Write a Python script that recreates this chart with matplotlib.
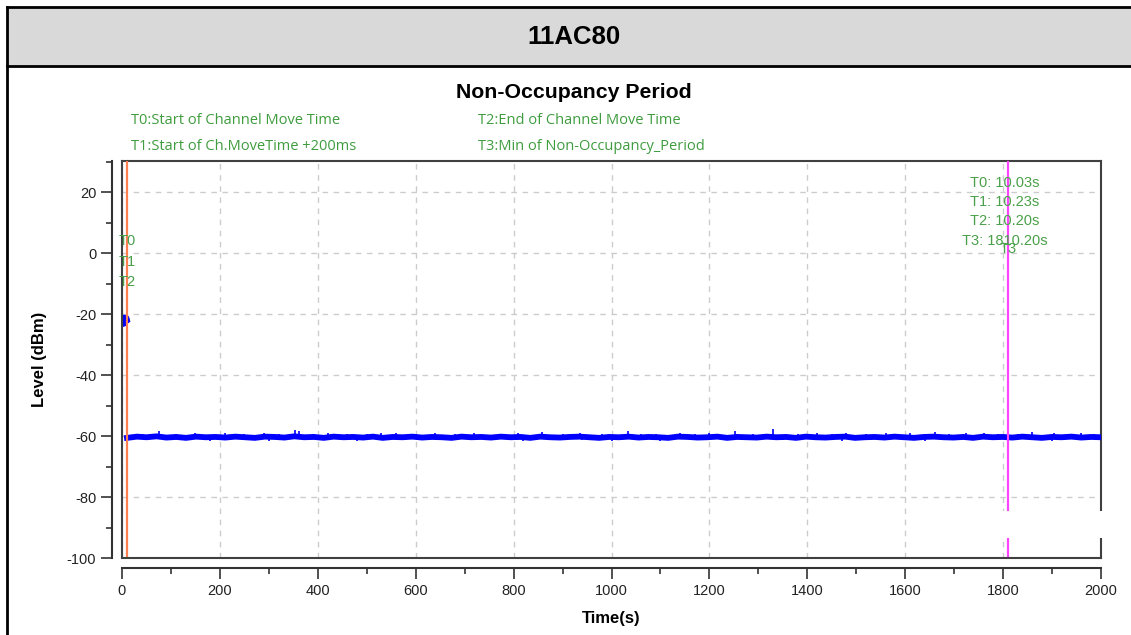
import numpy as np
import matplotlib
matplotlib.use('Agg')
import matplotlib.pyplot as plt
from matplotlib.patches import Rectangle
from matplotlib.lines import Line2D
from matplotlib.ticker import MultipleLocator

plt.rcParams['axes.unicode_minus'] = False

# ---- data ----
header = '11AC80'
title = 'Non-Occupancy Period'
legend_txt = ['T0:Start of Channel Move Time', 'T1:Start of Ch.MoveTime +200ms',
              'T2:End of Channel Move Time', 'T3:Min of Non-Occupancy_Period']

# marker times (s)
t0, t1, t2, t3 = 10.03, 10.23, 10.20, 1810.20
marker_names = ['T0', 'T1', 'T2']
marker_levels = [3.9, -3.0, -9.6]
t3_level = 1.3
info_lines = ['T0: 10.03s', 'T1: 10.23s', 'T2: 10.20s', 'T3: 1810.20s']
info_levels = [23.0, 16.8, 10.4, 3.8]

# signal before channel move (dBm)
pre_t = [0.5, 1.5, 2.5, 3.5, 4.5, 5.5, 6.5, 7.5, 8.5, 9.5]
pre_lvl = [-22.6, -23.2, -21.8, -22.7, -21.2, -23.0, -22.0, -22.4, -21.3, -21.9]

# noise floor after the move, sampled every ~20 s
base_lvl = [-60.6, -60.2, -60.4, -60.1, -60.5, -60.3, -60.6, -60.2, -60.4, -60.3,
            -60.5, -60.2, -60.4, -60.6, -60.2, -60.3, -60.5, -60.1, -60.4, -60.3,
            -60.6, -60.2, -60.4, -60.3, -60.5, -60.2, -60.6, -60.3, -60.4, -60.2,
            -60.5, -60.3, -60.4, -60.6, -60.2, -60.4, -60.3, -60.5, -60.2, -60.4,
            -60.3, -60.6, -60.2, -60.4, -60.5, -60.3, -60.2, -60.4, -60.6, -60.3,
            -60.4, -60.2, -60.5, -60.3, -60.4, -60.6, -60.2, -60.3, -60.5, -60.4,
            -60.2, -60.6, -60.3, -60.4, -60.5, -60.2, -60.4, -60.3, -60.6, -60.2,
            -60.4, -60.5, -60.3, -60.2, -60.6, -60.4, -60.3, -60.5, -60.2, -60.4,
            -60.6, -60.3, -60.2, -60.4, -60.5, -60.3, -60.6, -60.2, -60.4, -60.3,
            -60.5, -60.2, -60.4, -60.6, -60.3, -60.4, -60.2, -60.5, -60.3, -60.4]
base_t = np.linspace(10.2, 2000, len(base_lvl))

# short spikes on the noise floor
spike_up_t = [40, 76, 110, 150, 210, 250, 290, 320, 353, 362, 390, 420, 460, 500, 530,
              560, 600, 640, 680, 720, 770, 810, 857, 900, 935, 980, 1034, 1060, 1090,
              1140, 1170, 1200, 1252, 1290, 1330, 1380, 1420, 1450, 1480, 1520, 1560,
              1610, 1660, 1690, 1725, 1760, 1790, 1830, 1860, 1905, 1930, 1960, 1985]
spike_up_lvl = [-59.3, -58.3, -59.2, -59.0, -59.1, -59.3, -58.9, -59.2, -58.0, -58.4,
                -59.2, -59.0, -59.3, -59.2, -59.1, -58.9, -59.3, -59.1, -59.2, -59.0,
                -59.3, -59.1, -58.6, -59.2, -59.1, -59.3, -58.5, -59.2, -59.2, -58.9,
                -59.3, -59.1, -58.3, -59.2, -57.6, -59.3, -59.0, -59.2, -58.9, -59.3,
                -59.1, -59.0, -58.8, -59.2, -59.1, -58.9, -59.3, -59.2, -58.7, -59.0,
                -59.3, -59.1, -59.2]
spike_dn_t = [180, 300, 480, 620, 820, 940, 1000, 1100, 1230, 1350, 1470, 1640, 1780, 1900]
spike_dn_lvl = [-61.6, -61.5, -61.5, -61.4, -61.7, -61.4, -61.5, -61.6, -61.4, -61.4,
                -61.5, -61.6, -61.4, -61.5]

xticks = [0, 200, 400, 600, 800, 1000, 1200, 1400, 1600, 1800, 2000]
yticks = [20, 0, -20, -40, -60, -80, -100]

green = '#3f9c3f'
green2 = '#4aa04a'
tick_font = 'Liberation Sans'

# ---- figure ----
W, H = 1131, 635
fig = plt.figure(figsize=(W / 100, H / 100), dpi=100)

# report header band
fig.add_artist(Rectangle((7 / W, 1 - 66 / H), 1, 59 / H, transform=fig.transFigure,
                         facecolor='#d9d9d9', edgecolor='none', zorder=0))
for y in (7, 66):
    fig.add_artist(Line2D([7 / W, 1], [1 - y / H, 1 - y / H], transform=fig.transFigure,
                          color='k', lw=2))
fig.add_artist(Line2D([7 / W, 7 / W], [0, 1 - 7 / H], transform=fig.transFigure,
                      color='k', lw=2))
fig.text(574 / W, 1 - 37 / H, header, ha='center', va='center', fontsize=18.5,
         fontweight='bold', family='Liberation Sans')

ax = fig.add_axes([122 / W, 1 - 558 / H, 979 / W, 397 / H])

# signal before the move and the noise floor after it
ax.plot(pre_t, pre_lvl, color='#0000ff', lw=4.5, solid_joinstyle='round', zorder=3)
ax.plot(base_t, base_lvl, color='#0000ff', lw=4.2, solid_joinstyle='round', zorder=3)
ax.vlines(spike_up_t, -60.3, spike_up_lvl, color='#0000ff', lw=1.2, zorder=3)
ax.vlines(spike_dn_t, -60.3, spike_dn_lvl, color='#0000ff', lw=1.2, zorder=3)

ax.axvline(t0, color='#ff7f50', lw=1.6, zorder=4)
ax.axvline(t3, color='#ff44ff', lw=1.6, zorder=4)

ax.set_xlim(0, 2000)
ax.set_ylim(-100, 30.2)
ax.set_xticks(xticks)
ax.set_yticks(yticks)
ax.xaxis.set_minor_locator(MultipleLocator(100))
ax.yaxis.set_minor_locator(MultipleLocator(10))
ax.grid(True, which='major', color='#cccccc', ls=(0, (4, 4)), lw=1)

for s in ('top', 'right'):
    ax.spines[s].set_color('#404040')
    ax.spines[s].set_linewidth(1.5)
for s in ('left', 'bottom'):
    ax.spines[s].set_position(('outward', 7))
    ax.spines[s].set_color('#333333')
    ax.spines[s].set_linewidth(1.5)
# inner frame on left/bottom
ax.add_artist(Line2D([0, 0], [0, 1], transform=ax.transAxes, color='#404040', lw=1.5,
                     clip_on=False, zorder=5))
ax.add_artist(Line2D([0, 1], [0, 0], transform=ax.transAxes, color='#404040', lw=1.5,
                     clip_on=False, zorder=5))

ax.tick_params(which='major', length=8, width=1.2, color='#333333', labelsize=10.5,
               labelcolor='#222222')
ax.tick_params(which='minor', length=4, width=1.2, color='#333333')
for lab in ax.get_xticklabels() + ax.get_yticklabels():
    lab.set_family(tick_font)

ax.set_xlabel('Time(s)', fontsize=12, fontweight='bold', family='Liberation Sans')
ax.set_ylabel('Level (dBm)', fontsize=12, fontweight='bold', family='Liberation Sans')
ax.yaxis.set_label_coords(-0.077, 0.5)
ax.xaxis.set_label_coords(0.5, -0.133)

# marker labels
for name, lv in zip(marker_names, marker_levels):
    ax.text(t0, lv, name, ha='center', va='center', color=green2, fontsize=10.5,
            family=tick_font, zorder=6)
ax.text(t3, t3_level, 'T3', ha='center', va='center', color=green2, fontsize=10.5,
        family=tick_font, zorder=6)
for line, lv in zip(info_lines, info_levels):
    ax.text(0.902, lv, line, transform=ax.get_yaxis_transform(), ha='center',
            va='center', color=green2, fontsize=10.5, family=tick_font, zorder=6)

# title and legend texts
fig.text(574 / W, 1 - 92 / H, title, ha='center', va='center', fontsize=15.3,
         fontweight='bold', family='Liberation Sans')
for txt, (px, py) in zip(legend_txt, [(131, 120), (131, 147), (478, 120), (478, 147)]):
    fig.text(px / W, 1 - py / H, txt, ha='left', va='center', fontsize=10.5,
             color=green, family='Open Sans')

# blank patch seen in the screenshot near the lower right corner
fig.add_artist(Rectangle((1000 / W, 1 - 538 / H), 120 / W, 27 / H, transform=fig.transFigure,
                         facecolor='white', edgecolor='none', zorder=10))

fig.savefig('out.png', dpi=100)
